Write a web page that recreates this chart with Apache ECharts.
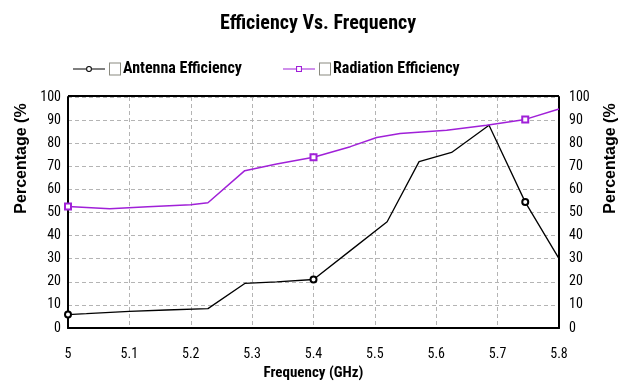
<!DOCTYPE html>
<html><head><meta charset="utf-8">
<script src="https://cdn.jsdelivr.net/npm/echarts@6/dist/echarts.min.js"></script>
<style>html,body{margin:0;padding:0;background:#fff}#c{width:619px;height:383px}</style>
</head><body><div id="c"></div>
<script>
const titleText = 'Efficiency Vs. Frequency';
const xTicks = ['5','5.1','5.2','5.3','5.4','5.5','5.6','5.7','5.8'];
const yTicks = ['0','10','20','30','40','50','60','70','80','90','100'];
const antennaFreq = [5.0, 5.03, 5.1, 5.16, 5.228, 5.288, 5.34, 5.4, 5.46, 5.52, 5.572, 5.625, 5.686, 5.745, 5.8];
const antennaEff  = [5.8, 6.2, 7.2, 7.8, 8.4, 19.3, 20.0, 21.0, 33.5, 46.0, 72.0, 76.0, 87.8, 54.5, 30.0];
const antennaMarked = [0, 7, 13];
const radFreq = [5.0, 5.068, 5.13, 5.2, 5.228, 5.288, 5.34, 5.4, 5.46, 5.503, 5.541, 5.617, 5.682, 5.745, 5.8];
const radEff  = [52.6, 51.6, 52.5, 53.4, 54.2, 68.1, 71.0, 73.9, 78.5, 82.5, 84.2, 85.6, 87.8, 90.3, 94.8];
const radMarked = [0, 7, 13];
const COND = '"Roboto Condensed","Open Sans Condensed","Liberation Sans Narrow",sans-serif';
const SANS = '"Liberation Sans",Arial,sans-serif';

const antennaData = antennaFreq.map((f,i)=>[f, antennaEff[i]]);
const radData = radFreq.map((f,i)=>[f, radEff[i]]);

const ICON_CIRCLE = 'path://M0 2.4H13.2V3.6H0Z M18.8 2.4H32V3.6H18.8Z M13 3A3 3 0 1 0 19 3A3 3 0 1 0 13 3Z M14.1 3A1.9 1.9 0 1 1 17.9 3A1.9 1.9 0 1 1 14.1 3Z';
const ICON_SQUARE = 'path://M0 2.4H13.2V3.6H0Z M18.8 2.4H32V3.6H18.8Z M13 0H19V6H13Z M14.1 1.1V4.9H17.9V1.1Z';

const chart = echarts.init(document.getElementById('c'), null, {renderer:'canvas'});
const gridLine = {show:true, lineStyle:{color:'#b4b4b4', type:[4,3], width:1}};
const yAxisBase = {
  type:'value', min:0, max:100, interval:10,
  nameLocation:'middle', name:'Percentage (%', nameRotate:90,
  nameTextStyle:{fontFamily:SANS, fontWeight:'bold', fontSize:16, color:'#000', padding:[0,0,0,108]},
  axisLine:{show:true, lineStyle:{color:'#000', width:2}},
  axisTick:{show:false},
  axisLabel:{fontFamily:COND, fontSize:14, color:'#000', formatter:(v)=>yTicks[Math.round(v/10)]},
};
const legendBase = {
  top:56, itemWidth:32, itemHeight:6,
  itemStyle:{borderWidth:0},
  textStyle:{fontFamily:COND, fontWeight:'bold', fontSize:16, color:'#000',
    rich:{box:{width:10, height:11, borderColor:'#8a8a80', borderWidth:1, backgroundColor:'#fff'},
          t:{fontFamily:COND, fontWeight:'bold', fontSize:16, color:'#000', padding:[0,0,0,3]}}},
  formatter:(n)=>'{box|}{t|'+n+'}'
};
chart.setOption({
  animation:false,
  backgroundColor:'#fff',
  title:{text:titleText, left:313, textAlign:'center', top:9,
    textStyle:{fontFamily:COND, fontWeight:'bold', fontSize:20, color:'#000'}},
  legend:[
    Object.assign({}, legendBase, {left:68, data:[{name:'Antenna Efficiency', icon:ICON_CIRCLE}]}),
    Object.assign({}, legendBase, {left:278, data:[{name:'Radiation Efficiency', icon:ICON_SQUARE}]})
  ],
  grid:{left:68, right:60, top:97, bottom:55, show:false, containLabel:false, outerBoundsMode:'none'},
  xAxis:{type:'value', min:5, max:5.8, interval:0.1,
    name:'Frequency (GHz)', nameLocation:'middle', nameGap:30,
    nameTextStyle:{fontFamily:COND, fontWeight:'bold', fontSize:15, color:'#000'},
    axisLine:{show:true, lineStyle:{color:'#000', width:2}},
    axisTick:{show:false},
    axisLabel:{fontFamily:COND, fontSize:14, color:'#000', margin:19,
      formatter:(v)=>xTicks[Math.round((v-5)*10)]},
    splitLine:gridLine
  },
  yAxis:[
    Object.assign({}, yAxisBase, {position:'left', nameGap:36, axisLabel:Object.assign({}, yAxisBase.axisLabel, {margin:7}), splitLine:gridLine}),
    Object.assign({}, yAxisBase, {position:'right', nameGap:44, axisLabel:Object.assign({}, yAxisBase.axisLabel, {margin:10}), splitLine:{show:false}})
  ],
  graphic:[{type:'rect', shape:{x:68, y:96, width:491, height:0}, style:{stroke:'#000', lineWidth:2}, silent:true}],
  series:[
    {name:'Antenna Efficiency', type:'line', data:antennaData,
      lineStyle:{color:'#000', width:1.3}, itemStyle:{color:'#000', borderColor:'#000', borderWidth:1},
      symbol:(v,p)=> (p && antennaMarked.includes(p.dataIndex)) ? 'emptyCircle' : 'none',
      symbolSize:6, showSymbol:true, clip:false},
    {name:'Radiation Efficiency', type:'line', data:radData,
      lineStyle:{color:'#a020d8', width:1.5}, itemStyle:{color:'#a020d8', borderColor:'#a020d8', borderWidth:1},
      symbol:(v,p)=> (p && radMarked.includes(p.dataIndex)) ? 'emptyRect' : 'none',
      symbolSize:6, showSymbol:true, clip:false}
  ]
});
</script></body></html>
